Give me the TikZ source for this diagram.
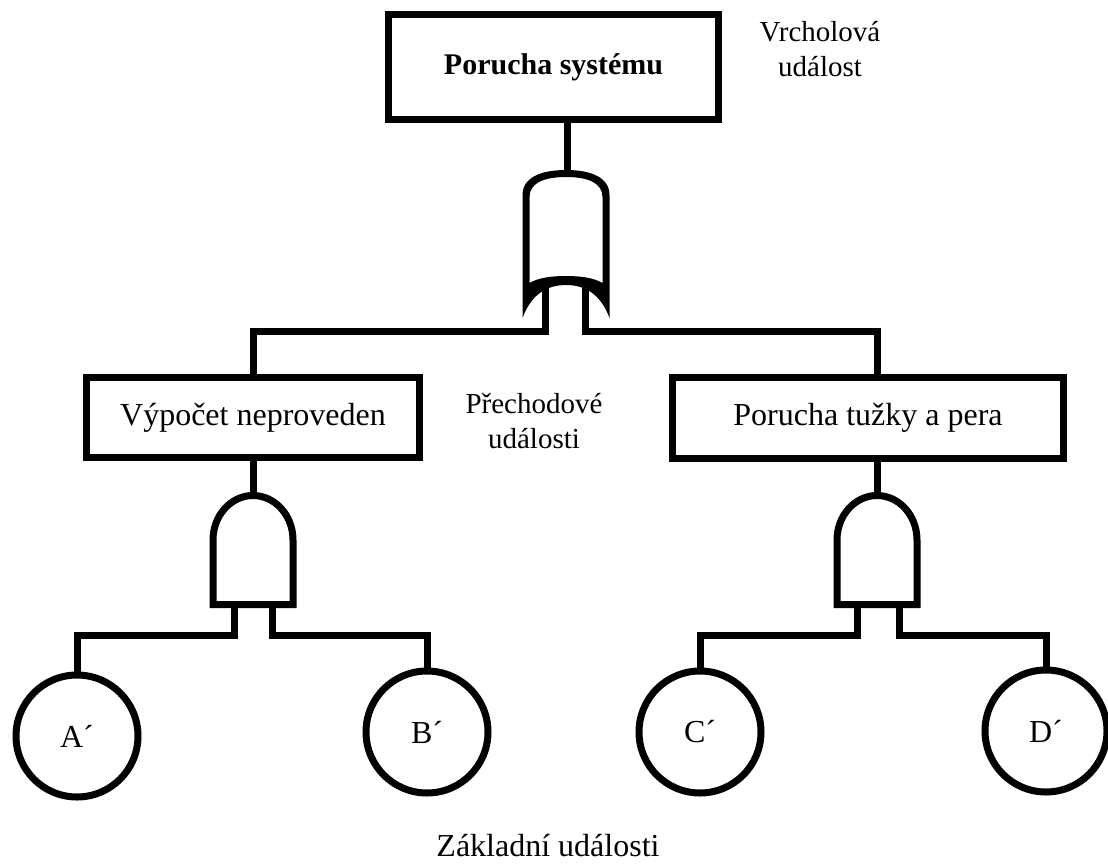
\documentclass[tikz,border=0pt]{standalone}
\usepackage{fontspec}
\setmainfont{Liberation Serif}
\usetikzlibrary{calc}
\begin{document}
\begin{tikzpicture}[x=1pt,y=-1pt,
  every node/.style={font=\fontsize{32}{37}\selectfont},
  evbox/.style={draw, line width=7pt, rectangle, inner sep=0pt},
  basic/.style={draw, line width=7pt, circle, minimum size=122pt, inner sep=0pt},
  lbl/.style={align=center, inner sep=0pt, font=\fontsize{29}{35}\selectfont},
  conn/.style={line width=7pt, line join=miter, line cap=butt},
  gate/.style={line width=7pt, line join=miter}]
\useasboundingbox (0,0) rectangle (1108,865);

% events
\node[evbox, minimum width=330pt, minimum height=105pt] (top) at (553.5,67) {\fontsize{30}{36}\selectfont\textbf{Porucha systému}};
\node[evbox, minimum width=333pt, minimum height=80pt] (left) at (253,417.5) {Výpočet neproveden};
\node[evbox, minimum width=391pt, minimum height=81pt] (right) at (868,418) {Porucha tužky a pera};

\node[basic] (A) at (77,736) {A´};
\node[basic] (B) at (427,732) {B´};
\node[basic] (C) at (700,732) {C´};
\node[basic] (D) at (1046,731) {D´};

% labels
\node[lbl] (lt) at (820,49) {Vrcholová\\událost};
\node[lbl] (lm) at (534,421) {Přechodové\\události};
\node[lbl, font=\fontsize{32}{37}\selectfont] (lb) at (548,846) {Základní události};

% OR gate
\fill[even odd rule]
  (522.5,195) -- (522.5,318)
  .. controls (531,295) and (546,285) .. (566,285)
  .. controls (586,285) and (601,295) .. (609.5,318)
  -- (609.5,195)
  .. controls (609.5,178) and (592,170) .. (566,170)
  .. controls (540,170) and (522.5,178) .. (522.5,195) -- cycle
  (529.5,197) -- (529.5,283)
  .. controls (538,278) and (550,276) .. (566,276)
  .. controls (582,276) and (594,278) .. (602.5,283)
  -- (602.5,197)
  .. controls (602.5,183) and (588,177) .. (566,177)
  .. controls (544,177) and (529.5,183) .. (529.5,197) -- cycle;
\coordinate (orOut) at (567,172);
\coordinate (orIn1) at (545,282);
\coordinate (orIn2) at (585,282);

% AND gates
\draw[gate] (213,604.5) -- (213,540)
  .. controls (213,515.4) and (231,495.5) .. (253,495.5)
  .. controls (275,495.5) and (293,515.4) .. (293,540) -- (293,604.5) -- cycle;
\coordinate (andLout) at (253,493);
\coordinate (andLin1) at (234,606);
\coordinate (andLin2) at (272,606);

\draw[gate] (837,604.5) -- (837,540)
  .. controls (837,515.4) and (855,495.5) .. (877,495.5)
  .. controls (899,495.5) and (917,515.4) .. (917,540) -- (917,604.5) -- cycle;
\coordinate (andRout) at (877,493);
\coordinate (andRin1) at (857,606);
\coordinate (andRin2) at (899,606);

% bus levels
\coordinate (jTop) at (0,331);
\coordinate (jBot) at (0,635);

% connectors
\draw[conn] ([xshift=13.5pt]top.south) -- (orOut);
\draw[conn] (orIn1) -- (orIn1 |- jTop) -| (left.north);
\draw[conn] (orIn2) -- (orIn2 |- jTop) -| ([xshift=9pt]right.north);
\draw[conn] (left.south) -- (andLout);
\draw[conn] ([xshift=9pt]right.south) -- (andRout);
\draw[conn] (andLin1) -- (andLin1 |- jBot) -| (A.north);
\draw[conn] (andLin2) -- (andLin2 |- jBot) -| (B.north);
\draw[conn] (andRin1) -- (andRin1 |- jBot) -| (C.north);
\draw[conn] (andRin2) -- (andRin2 |- jBot) -| (D.north);
\end{tikzpicture}
\end{document}
